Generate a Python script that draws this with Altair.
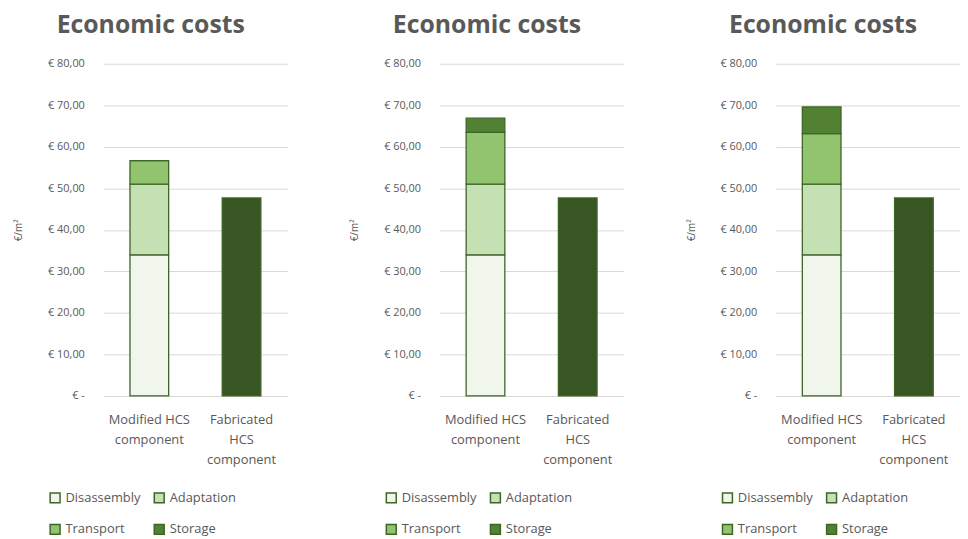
import altair as alt
import pandas as pd

components = ["Modified HCS component", "Fabricated HCS component"]
series = ["Disassembly", "Adaptation", "Transport", "Storage"]

# one value per panel (left, middle, right) for the Modified HCS component
disassembly = [34.0, 34.0, 34.0]
adaptation = [17.0, 17.0, 17.0]
transport = [5.7, 12.5, 12.2]
storage = [0.0, 3.4, 6.4]
# Fabricated HCS component (single dark bar)
fabricated = [47.7, 47.7, 47.7]

colors = ["#f1f6ec", "#c5e0b3", "#92c46f", "#528134"]
fabricated_color = "#375623"
stroke_color = "#3d6526"
text_color = "#595959"

rows = []
for p in range(3):
    vals = [disassembly[p], adaptation[p], transport[p], storage[p]]
    for i, (s, v) in enumerate(zip(series, vals)):
        rows.append({"panel": p, "component": components[0], "series": s, "value": v, "ord": i})
    rows.append({"panel": p, "component": components[1], "series": "Fabricated",
                 "value": fabricated[p], "ord": 0})
df = pd.DataFrame(rows)

x_label_expr = ("datum.value == 'Modified HCS component' ? ['Modified HCS', 'component'] : "
                "['Fabricated', 'HCS', 'component']")
y_label_expr = ("datum.value == 0 ? '€ -\u2007\u2007' : "
                "'€ ' + replace(format(datum.value, '.2f'), '.', ',')")


def panel(p):
    d = df[df.panel == p]
    return alt.Chart(
        d,
        title=alt.TitleParams("Economic costs", fontSize=25, font="Open Sans",
                              fontWeight="bold", color=text_color, anchor="middle",
                              frame="bounds", offset=20),
    ).mark_bar(size=39, stroke=stroke_color, strokeWidth=1.3).encode(
        x=alt.X("component:N", sort=components,
                axis=alt.Axis(title=None, labelAngle=0, labelExpr=x_label_expr,
                              labelFontSize=13, labelColor=text_color, labelLineHeight=20,
                              labelPadding=18, ticks=False, domainColor="#d9d9d9",
                              labelBaseline="top")),
        y=alt.Y("value:Q", stack="zero", scale=alt.Scale(domain=[0, 80]),
                axis=alt.Axis(values=list(range(0, 90, 10)), title="€/m²",
                              labelExpr=y_label_expr, labelFontSize=11,
                              labelColor=text_color, labelPadding=19, ticks=False,
                              domain=False, gridColor="#d9d9d9", titleFontSize=10,
                              titleFontWeight="normal", titleColor=text_color,
                              titlePadding=24)),
        fill=alt.Fill("series:N",
                      scale=alt.Scale(domain=series + ["Fabricated"],
                                      range=colors + [fabricated_color]),
                      legend=alt.Legend(values=series, title=None, orient="none",
                                        legendX=-55, legendY=431, direction="horizontal",
                                        columns=2, symbolType="square", symbolSize=100,
                                        symbolStrokeColor=stroke_color, symbolStrokeWidth=1.5,
                                        labelFontSize=13, labelColor=text_color,
                                        labelOffset=4, columnPadding=10, rowPadding=15)),
        order=alt.Order("ord:Q", sort="ascending"),
    ).properties(width=186, height=335)


chart = alt.hconcat(panel(0), panel(1), panel(2), spacing=62).resolve_scale(
    fill="independent"
).configure(
    font="Open Sans",
    padding={"left": 5, "top": 3, "right": 0, "bottom": 0},
).configure_view(stroke=None)

chart.save("out.html", embed_options={"renderer": "svg", "actions": False})
